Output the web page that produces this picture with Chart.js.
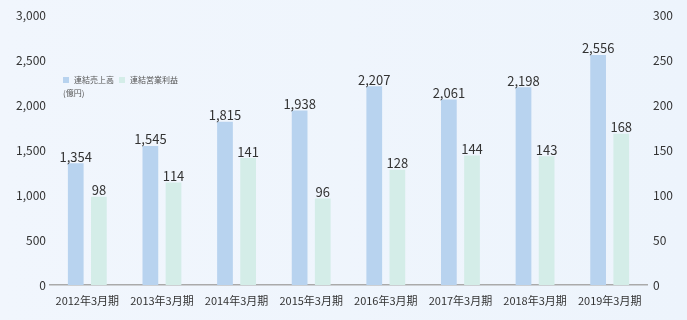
<!DOCTYPE html>
<html><head><meta charset="utf-8">
<script src="https://cdn.jsdelivr.net/npm/chart.js@4"></script>
<style>
html,body{margin:0;padding:0;}
body{width:687px;height:320px;background:linear-gradient(90deg,#f1f6fd 0%,#edf4fc 100%);position:relative;overflow:hidden;font-family:"Noto Sans CJK JP","Noto Sans",sans-serif;}
#wrap{position:absolute;left:0;top:0;width:687px;height:320px;}
.lg{position:absolute;font-size:8px;color:#555;line-height:10px;white-space:nowrap;}
.sw{display:inline-block;width:6px;height:6px;margin-right:5px;vertical-align:0px;}
</style></head>
<body>
<div id="wrap"><canvas id="c" width="687" height="320"></canvas></div>
<div class="lg" style="left:63px;top:75px;"><span class="sw" style="background:#b8d3ef"></span>連結売上高</div>
<div class="lg" style="left:119px;top:75px;"><span class="sw" style="background:#d4ede8"></span>連結営業利益</div>
<div class="lg" style="left:63px;top:88px;">(億円)</div>
<script>
const categories = ["2012年3月期","2013年3月期","2014年3月期","2015年3月期","2016年3月期","2017年3月期","2018年3月期","2019年3月期"];
const salesValues = [1354,1545,1815,1938,2207,2061,2198,2556];
const profitValues = [98,114,141,96,128,144,143,168];
const leftTicks = [0,500,1000,1500,2000,2500,3000];
const rightTicks = [0,50,100,150,200,250,300];
const seriesNames = ["連結売上高","連結営業利益"];
const FONT = '"Noto Sans CJK JP","Noto Sans",sans-serif';

const valueLabels = {
  id:'valueLabels',
  afterDatasetsDraw(chart){
    const ctx = chart.ctx;
    ctx.save();
    ctx.font = '13px ' + FONT;
    ctx.fillStyle = '#333';
    ctx.textAlign = 'center';
    ctx.textBaseline = 'bottom';
    chart.data.datasets.forEach((ds,i)=>{
      chart.getDatasetMeta(i).data.forEach((bar,j)=>{
        ctx.fillText(ds.data[j].toLocaleString('en-US'), bar.x, bar.y);
      });
    });
    ctx.restore();
  }
};

new Chart(document.getElementById('c'),{
  type:'bar',
  data:{
    labels:categories,
    datasets:[
      {label:seriesNames[0],data:salesValues,yAxisID:'y',backgroundColor:'#b8d3ef',barPercentage:0.68,categoryPercentage:0.62},
      {label:seriesNames[1],data:profitValues,yAxisID:'y2',backgroundColor:'#d4ede8',barPercentage:0.68,categoryPercentage:0.62}
    ]
  },
  options:{
    responsive:false,
    animation:false,
    layout:{padding:{top:15,left:0,right:0,bottom:0}},
    plugins:{legend:{display:false},tooltip:{enabled:false}},
    scales:{
      x:{
        grid:{display:false,drawTicks:false},
        border:{display:true,color:'#aaaaaa',width:1.5},
        ticks:{color:'#333',font:{family:FONT,size:11},padding:9,maxRotation:0},
        afterFit(s){s.height=35;}
      },
      y:{
        position:'left',min:0,max:3000,
        afterBuildTicks(s){s.ticks=leftTicks.map(v=>({value:v}));},
        grid:{display:false,drawTicks:false},
        border:{display:false},
        ticks:{color:'#333',font:{family:FONT,size:12},padding:4,callback:v=>v.toLocaleString('en-US')},
        afterFit(s){s.width=50;}
      },
      y2:{
        position:'right',min:0,max:300,
        afterBuildTicks(s){s.ticks=rightTicks.map(v=>({value:v}));},
        grid:{display:false,drawTicks:false},
        border:{display:false},
        ticks:{color:'#333',font:{family:FONT,size:12},padding:6},
        afterFit(s){s.width=40;}
      }
    }
  },
  plugins:[valueLabels]
});
</script>
</body></html>
